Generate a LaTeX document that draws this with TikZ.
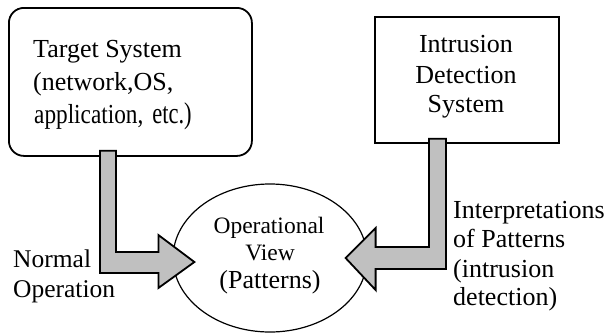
\documentclass[tikz,border=0pt]{standalone}
\usepackage{fontspec}
\setmainfont{Liberation Serif}
\usetikzlibrary{shapes.geometric,calc}
\definecolor{arrowgray}{RGB}{192,192,192}

\begin{document}
\begin{tikzpicture}[x=1pt,y=-1pt,
  txt/.style={inner sep=0pt, font=\fontsize{26}{30}\selectfont},
  smalltxt/.style={inner sep=0pt, font=\fontsize{23.5}{28}\selectfont},
  sysbox/.style={draw, line width=1.8pt, inner sep=0pt, anchor=north west},
  blockarrow/.style={draw, line width=1.8pt, fill=arrowgray, line join=miter}]
\useasboundingbox (0,0) rectangle (610,333);

% the two systems and the operational view
\node[sysbox, rounded corners=15pt, minimum width=243pt, minimum height=148pt] (tgt) at (8,7) {};
\node[sysbox, minimum width=184pt, minimum height=126pt] (ids) at (374,16) {};
\node[draw, ellipse, line width=1.2pt, inner sep=0pt, minimum width=194pt, minimum height=148pt] (view) at (270,258) {};

% labels inside the target system box
\node[txt, anchor=base west] (tgt1) at (33,57) {Target System};
\node[txt, anchor=base west] (tgt2) at (33,90) {(network,OS,};
\node[txt, anchor=base west, font=\fontsize{25}{30}\selectfont] (tgt3) at (34,123)
  {\scalebox{0.93}[1.1]{application,}\hspace{9pt}\scalebox{0.9}[1.2]{etc.)}};

% labels inside the IDS box
\node[txt, anchor=base] (ids1) at (466,52) {Intrusion};
\node[txt, anchor=base] (ids2) at (466,83) {Detection};
\node[txt, anchor=base] (ids3) at (466,112) {System};

% labels inside the ellipse
\node[smalltxt, anchor=base] (v1) at (269,233) {Operational};
\node[smalltxt, anchor=base] (v2) at (270,260) {View};
\node[txt, anchor=base] (v3) at (270,288) {(Patterns)};

% arrow labels
\node[txt, anchor=base west, font=\fontsize{25.5}{30}\selectfont] (n1) at (13,267) {Normal};
\node[txt, anchor=base west, font=\fontsize{25.5}{30}\selectfont] (n2) at (13,297) {Operation};
\node[txt, anchor=base west] (i1) at (453,218) {Interpretations};
\node[txt, anchor=base west] (i2) at (453,247) {of Patterns};
\node[txt, anchor=base west] (i3) at (453,277) {(intrusion};
\node[txt, anchor=base west] (i4) at (453,305) {detection)};

% block arrow: target system -> operational view
\coordinate (lstart) at ($(tgt.south west)+(92,-6)$);
\coordinate (ltip) at ($(view.west)+(22,4)$);
\draw[blockarrow] (lstart) -- ++(16,0) |- ($(ltip)+(-36,-10)$) -- ++(0,-17)
  -- (ltip) -- ++(-36,26) -- ++(0,-15) -| (lstart) -- cycle;

% block arrow: IDS -> operational view
\coordinate (rstart) at ($(ids.south west)+(72,-5)$);
\coordinate (rtip) at ($(view.east)+(-22,0)$);
\draw[blockarrow] (rstart) -- ++(-17,0) |- ($(rtip)+(30,-11)$) -- ++(0,-19)
  -- (rtip) -- ++(30,32) -- ++(0,-21) -| (rstart) -- cycle;
\end{tikzpicture}
\end{document}
